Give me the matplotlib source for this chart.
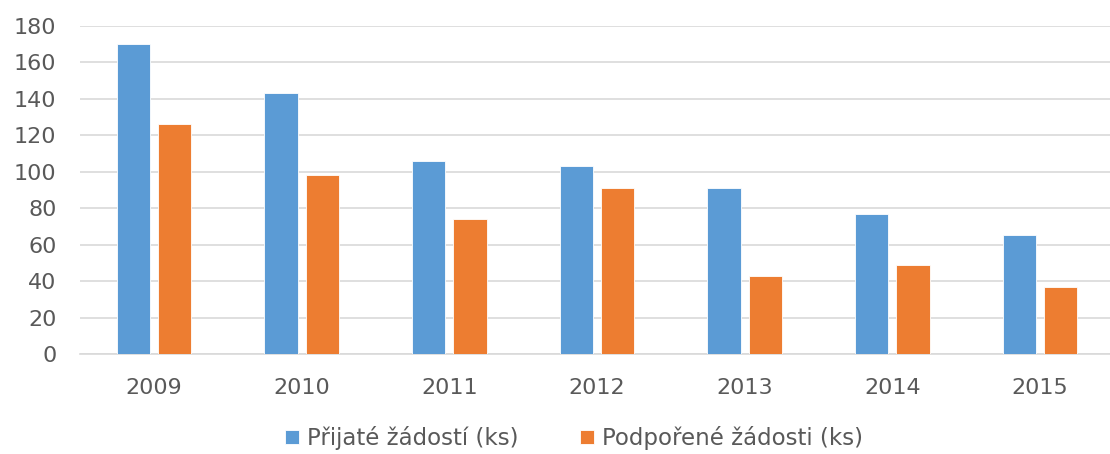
import matplotlib
matplotlib.use("Agg")
import matplotlib.pyplot as plt
import numpy as np

years = ["2009", "2010", "2011", "2012", "2013", "2014", "2015"]
prijate = [170, 143, 106, 103, 91, 77, 65]
podporene = [126, 98, 74, 91, 43, 49, 37]
series_names = ["Přijaté žádostí (ks)", "Podpořené žádosti (ks)"]
yticks = [0, 20, 40, 60, 80, 100, 120, 140, 160, 180]

plt.rcParams['font.family'] = ['DejaVu Sans']

W, H = 1110, 454
fig = plt.figure(figsize=(W/100, H/100), dpi=100)
left, right, bottom, top = 80, 1112, 354, 25.7
ax = fig.add_axes([left/W, (H-bottom)/H, (right-left)/W, (bottom-top)/H])

x = np.arange(len(years))
bw = 0.225
gap = 0.055
off = (bw + gap) / 2
c1, c2 = "#5B9BD5", "#ED7D31"
ax.bar(x - off, prijate, bw, color=c1, edgecolor="white", linewidth=0.6, label=series_names[0], zorder=3)
ax.bar(x + off, podporene, bw, color=c2, edgecolor="white", linewidth=0.6, label=series_names[1], zorder=3)

ax.set_ylim(0, 180)
ax.set_xlim(-0.5, len(years) - 0.5 + (right - 1114) / 147.5)
ax.set_yticks(yticks)
ax.set_xticks(x)
ax.set_xticklabels(years)
ax.grid(axis="y", color="#D9D9D9", linewidth=1.2, zorder=0)
ax.set_axisbelow(True)
for s in ["top", "right", "left"]:
    ax.spines[s].set_visible(False)
ax.spines["bottom"].set_color("#D9D9D9")
ax.spines["bottom"].set_linewidth(1.2)
ax.tick_params(axis="both", length=0, colors="#595959", labelsize=16)
ax.tick_params(axis="y", pad=17)
ax.tick_params(axis="x", pad=17)

leg = fig.legend(loc="center", bbox_to_anchor=(574/W, (H-438)/H), ncol=2, frameon=False,
                 fontsize=16.5, handlelength=0.6, handleheight=0.6, handletextpad=0.35,
                 columnspacing=2.7)
for t in leg.get_texts():
    t.set_color("#595959")

fig.savefig("out.png", dpi=100)
